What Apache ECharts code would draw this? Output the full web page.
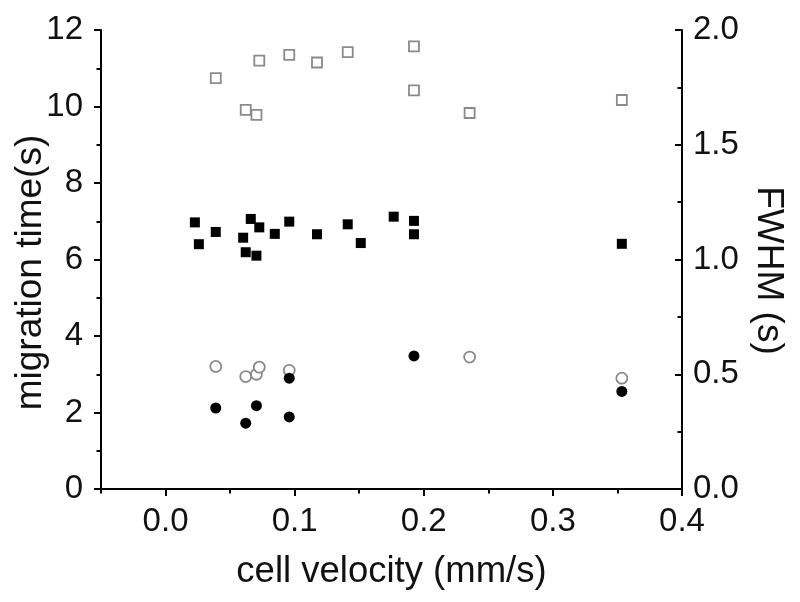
<!DOCTYPE html>
<html>
<head>
<meta charset="utf-8">
<script src="https://cdn.jsdelivr.net/npm/echarts@6/dist/echarts.min.js"></script>
<style>
html,body{margin:0;padding:0;background:#fff;}
#chart{width:800px;height:602px;}
</style>
</head>
<body>
<div id="chart"></div>
<script>
// Migration time (s), left axis
const openSquareX = [0.0389, 0.0621, 0.0704, 0.0726, 0.0958, 0.1173, 0.1411, 0.1924, 0.1924, 0.2355, 0.3534];
const openSquareY = [10.74, 9.91, 9.78, 11.20, 11.35, 11.15, 11.42, 11.57, 10.42, 9.83, 10.17];
const filledSquareX = [0.0227, 0.0258, 0.0389, 0.0601, 0.0621, 0.0660, 0.0704, 0.0726, 0.0846, 0.0958, 0.1173, 0.1411, 0.1512, 0.1767, 0.1924, 0.1924, 0.3534];
const filledSquareY = [6.97, 6.40, 6.72, 6.57, 6.19, 7.06, 6.10, 6.84, 6.67, 6.99, 6.66, 6.92, 6.43, 7.12, 7.01, 6.66, 6.41];
// FWHM (s), right axis
const openCircleX = [0.0389, 0.0621, 0.0704, 0.0726, 0.0958, 0.2355, 0.3534];
const openCircleY = [0.534, 0.490, 0.500, 0.531, 0.517, 0.575, 0.483];
const filledCircleX = [0.0389, 0.0621, 0.0704, 0.0958, 0.0958, 0.1924, 0.3534];
const filledCircleY = [0.353, 0.287, 0.363, 0.483, 0.314, 0.580, 0.425];

const xTicks = [0.0, 0.1, 0.2, 0.3, 0.4];
const xMinorTicks = [-0.05, 0.05, 0.15, 0.25, 0.35];
const leftTicks = [0, 2, 4, 6, 8, 10, 12];
const rightTicks = [0.0, 0.5, 1.0, 1.5, 2.0];

const pairs = (xs, ys) => xs.map((x, i) => [x, ys[i]]);
const FONT = '"Liberation Sans", Arial, sans-serif';
const TXT = '#111';

const chart = echarts.init(document.getElementById('chart'), null, {renderer: 'canvas'});
chart.setOption({
  animation: false,
  backgroundColor: '#fff',
  grid: {left: 101, right: 118, top: 30, bottom: 113, containLabel: false, outerBoundsMode: 'none'},
  xAxis: [{
    type: 'value', min: -0.05, max: 0.4, interval: 0.05,
    name: 'cell velocity (mm/s)', nameLocation: 'middle', nameGap: 64, nameMoveOverlap: false,
    nameTextStyle: {fontSize: 36.5, color: TXT, fontFamily: FONT},
    axisLine: {show: true, onZero: false, lineStyle: {color: '#000', width: 2}},
    axisTick: {show: true, inside: false, length: 7, customValues: xTicks, lineStyle: {color: '#000', width: 2}},
    axisLabel: {show: true, margin: 16, fontSize: 33, color: TXT, fontFamily: FONT, customValues: xTicks,
      formatter: v => Number(v).toFixed(1)},
    splitLine: {show: false}
  }, {
    type: 'value', min: -0.05, max: 0.4, interval: 0.05, position: 'bottom',
    axisLine: {show: false, onZero: false},
    axisTick: {show: true, inside: false, length: 4.5, customValues: xMinorTicks, lineStyle: {color: '#000', width: 2}},
    axisLabel: {show: false},
    splitLine: {show: false}
  }],
  yAxis: [{
    type: 'value', min: 0, max: 12, interval: 2, position: 'left',
    name: 'migration time(s)', nameLocation: 'middle', nameGap: 52, nameRotate: 90, nameMoveOverlap: false,
    nameTextStyle: {fontSize: 37, color: TXT, fontFamily: FONT, padding: [0, 26, 0, 0]},
    axisLine: {show: true, onZero: false, lineStyle: {color: '#000', width: 2}},
    axisTick: {show: true, inside: false, length: 7, lineStyle: {color: '#000', width: 2}},
    minorTick: {show: true, splitNumber: 2, length: 4.5, lineStyle: {color: '#000', width: 2}},
    axisLabel: {margin: 18, fontSize: 33, color: TXT, fontFamily: FONT, customValues: leftTicks},
    splitLine: {show: false}, minorSplitLine: {show: false}
  }, {
    type: 'value', min: 0, max: 2, interval: 0.5, position: 'right',
    name: 'FWHM (s)', nameLocation: 'middle', nameGap: 68, nameRotate: -90, nameMoveOverlap: false,
    nameTextStyle: {fontSize: 37, color: TXT, fontFamily: FONT, padding: [0, 0, 0, 22]},
    axisLine: {show: true, onZero: false, lineStyle: {color: '#000', width: 2}},
    axisTick: {show: true, inside: true, length: 7, lineStyle: {color: '#000', width: 2}},
    minorTick: {show: true, splitNumber: 2, length: 4.5, lineStyle: {color: '#000', width: 2}},
    axisLabel: {margin: 11, fontSize: 33, color: TXT, fontFamily: FONT, customValues: rightTicks,
      formatter: v => Number(v).toFixed(1)},
    splitLine: {show: false}, minorSplitLine: {show: false}
  }],
  series: [{
    type: 'scatter', name: 'open squares', xAxisIndex: 0, yAxisIndex: 0,
    symbol: 'rect', symbolSize: 10,
    itemStyle: {color: '#fff', borderColor: '#8a8a8a', borderWidth: 1.8, opacity: 1},
    data: pairs(openSquareX, openSquareY)
  }, {
    type: 'scatter', name: 'filled squares', xAxisIndex: 0, yAxisIndex: 0,
    symbol: 'rect', symbolSize: 10,
    itemStyle: {color: '#000', opacity: 1},
    data: pairs(filledSquareX, filledSquareY)
  }, {
    type: 'scatter', name: 'open circles', xAxisIndex: 0, yAxisIndex: 1,
    symbol: 'circle', symbolSize: 11,
    itemStyle: {color: '#fff', borderColor: '#8a8a8a', borderWidth: 1.8, opacity: 1},
    data: pairs(openCircleX, openCircleY)
  }, {
    type: 'scatter', name: 'filled circles', xAxisIndex: 0, yAxisIndex: 1,
    symbol: 'circle', symbolSize: 11, z: 3,
    itemStyle: {color: '#000', opacity: 1},
    data: pairs(filledCircleX, filledCircleY)
  }]
});
</script>
</body>
</html>
